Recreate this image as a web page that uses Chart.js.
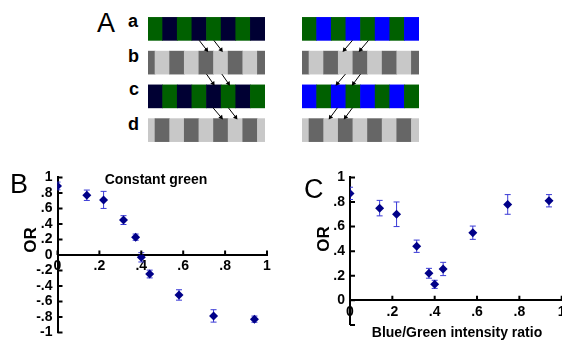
<!DOCTYPE html>
<html>
<head>
<meta charset="utf-8">
<script src="https://cdn.jsdelivr.net/npm/chart.js@4.4.0/dist/chart.umd.min.js"></script>
<style>
html, body { margin: 0; padding: 0; background: #fff; }
body { width: 562px; height: 341px; position: relative; overflow: hidden; font-family: "Liberation Sans", Arial, sans-serif; }
canvas { position: absolute; }
.t { position: absolute; line-height: 1; white-space: nowrap; color: #000; }
.big { font-size: 27px; }
.row { font-size: 18px; font-weight: bold; }
.lab { font-size: 14px; font-weight: bold; }
.or { font-size: 17px; font-weight: bold; transform: translate(-50%, -50%) rotate(-90deg); }
</style>
</head>
<body>
<canvas id="stripesL" width="117" height="135" style="left:148px;top:12px"></canvas>
<canvas id="stripesR" width="117" height="135" style="left:302px;top:12px"></canvas>
<canvas id="green" width="290" height="190" style="left:0;top:160px"></canvas>
<canvas id="ratio" width="320" height="190" style="left:290px;top:160px"></canvas>

<div class="t big" style="left:97px;top:10px">A</div>
<div class="t row" style="left:128px;top:12px">a</div>
<div class="t row" style="left:128px;top:47px">b</div>
<div class="t row" style="left:129px;top:80px">c</div>
<div class="t row" style="left:128px;top:115px">d</div>
<div class="t big" style="left:10px;top:171px">B</div>
<div class="t big" style="left:304px;top:176px">C</div>
<div class="t lab" style="left:156px;top:172px;transform:translateX(-50%)">Constant green</div>
<div class="t lab" style="left:457px;top:325px;transform:translateX(-50%)">Blue/Green intensity ratio</div>
<div class="t or" style="left:30px;top:240px">OR</div>
<div class="t or" style="left:323px;top:239px">OR</div>

<script>
// panel A: stripe rows, edges in stripe widths
var rowNames = ['a', 'b', 'c', 'd'];
var colourEdges = [0, 1, 2, 3, 4, 5, 6, 7, 8];
var greyEdges = [0, 0.48, 1.48, 2.48, 3.48, 4.48, 5.48, 6.48, 7.48, 8];
var leftRows = ['GNGNGNGN', 'DLDLDLDLD', 'NGNGNGNG', 'LDLDLDLDL'];
var rightRows = ['GBGBGBGB', 'DLDLDLDLD', 'BGBGBGBG', 'LDLDLDLDL'];
// arrows: [x0, y0, x1, y1] in stripe widths / row index
var leftArrows = [
    [3.5, 0.34, 4.0, 0.62], [4.5, 0.34, 5.0, 0.62],
    [4.0, 1.34, 4.45, 1.62], [5.05, 1.34, 5.5, 1.62],
    [4.45, 2.34, 5.0, 2.62], [5.5, 2.34, 6.0, 2.62]
];
var rightArrows = [
    [3.45, 0.34, 2.9, 0.62], [4.55, 0.34, 4.0, 0.62],
    [2.97, 1.34, 2.42, 1.62], [4.0, 1.34, 3.52, 1.62],
    [2.42, 2.34, 1.94, 2.62], [3.45, 2.34, 2.97, 2.62]
];

// panels B and C
var ratio = [0, 0.14, 0.22, 0.315, 0.373, 0.40, 0.44, 0.58, 0.745, 0.94];
var orGreen = [0.89, 0.77, 0.71, 0.45, 0.23, -0.03, -0.245, -0.515, -0.785, -0.827];
var errGreen = [0.05, 0.067, 0.11, 0.057, 0.04, 0.06, 0.05, 0.067, 0.08, 0.04];
var orRatio = [0.87, 0.75, 0.70, 0.44, 0.22, 0.13, 0.255, 0.55, 0.78, 0.81];
var errRatio = [0.05, 0.063, 0.10, 0.05, 0.04, 0.033, 0.054, 0.054, 0.08, 0.05];

var swatch = { G: '#006000', N: '#000033', B: '#0000ff', D: '#666666', L: '#c8c8c8' };
var marker = '#000088';
var errColour = '#3a3ad6';
var tickFont = { family: '"Liberation Sans", Arial, sans-serif', size: 14, weight: 'bold' };

// short tick marks pointing into the plot, on the y axis and on the x axis at y = 0
var inwardTicks = {
    id: 'inwardTicks',
    afterDraw: function (chart) {
        var ctx = chart.ctx, sx = chart.scales.x, sy = chart.scales.y;
        var left = chart.chartArea.left, base = sy.getPixelForValue(0);
        ctx.save();
        ctx.strokeStyle = '#000';
        ctx.lineWidth = 2;
        ctx.beginPath();
        sy.ticks.forEach(function (t) {
            var p = sy.getPixelForValue(t.value);
            ctx.moveTo(left, p);
            ctx.lineTo(left + 5, p);
        });
        sx.ticks.forEach(function (t) {
            var p = sx.getPixelForValue(t.value);
            ctx.moveTo(p, base);
            ctx.lineTo(p, base - 4.5);
        });
        ctx.stroke();
        ctx.restore();
    }
};

function arrowPoints(arrows) {
    var pts = [];
    arrows.forEach(function (a) {
        pts.push({ x: a[0], y: a[1] }, { x: a[2], y: a[3] }, { x: null, y: null });
    });
    return pts;
}

function stripes(id, rows, arrows) {
    var datasets = [{
        type: 'line',
        data: arrowPoints(arrows),
        showLine: true,
        borderColor: '#000',
        borderWidth: 1,
        pointStyle: 'triangle',
        pointBackgroundColor: '#000',
        pointBorderColor: '#000',
        pointBorderWidth: 0,
        pointRadius: function (ctx) { return ctx.dataIndex % 3 === 1 ? 2.8 : 0; },
        pointRotation: function (ctx) {
            var a = arrows[Math.floor(ctx.dataIndex / 3)];
            if (!a) return 0;
            var sx = ctx.chart.scales.x, sy = ctx.chart.scales.y;
            var dx = sx.getPixelForValue(a[2]) - sx.getPixelForValue(a[0]);
            var dy = sy.getPixelForValue(a[3]) - sy.getPixelForValue(a[1]);
            return Math.atan2(dx, -dy) * 180 / Math.PI;
        }
    }];
    rows.forEach(function (row, r) {
        var edges = row.length === colourEdges.length - 1 ? colourEdges : greyEdges;
        var data = [], colours = [];
        for (var k = 0; k < row.length; k++) {
            data.push({ y: r, x: [edges[k], edges[k + 1]] });
            colours.push(swatch[row[k]]);
        }
        datasets.push({
            type: 'bar',
            label: rowNames[r],
            indexAxis: 'y',
            data: data,
            backgroundColor: colours,
            borderWidth: 0,
            barThickness: 23,
            grouped: false
        });
    });
    new Chart(document.getElementById(id), {
        type: 'scatter',
        data: { datasets: datasets },
        options: {
            responsive: false,
            animation: false,
            events: [],
            layout: { padding: 0, autoPadding: false },
            plugins: { legend: { display: false }, tooltip: { enabled: false } },
            scales: {
                x: { type: 'linear', min: 0, max: 8, display: false },
                y: { type: 'linear', min: -0.5, max: 3.5, reverse: true, offset: false, display: false }
            }
        }
    });
}

function errorSegments(xs, ys, es) {
    var pts = [];
    xs.forEach(function (x, i) {
        pts.push({ x: x, y: ys[i] - es[i] }, { x: x, y: ys[i] + es[i] }, { x: x, y: null });
    });
    return pts;
}

function fmt(v) {
    var s = String(Math.round(v * 10) / 10);
    return s.replace(/^(-?)0\./, '$1.');
}

function orPanel(id, ys, es, yMin, pad, axisWidth) {
    var tickGrid = {
        display: true, drawOnChartArea: false, drawTicks: true,
        tickLength: -4, color: 'rgba(0,0,0,0)', tickColor: 'rgba(0,0,0,0)'
    };
    new Chart(document.getElementById(id), {
        type: 'scatter',
        data: {
            datasets: [{
                data: ratio.map(function (x, i) { return { x: x, y: ys[i] }; }),
                pointStyle: 'rectRot',
                pointRadius: 4.5,
                backgroundColor: marker,
                borderColor: marker,
                borderWidth: 0
            }, {
                type: 'line',
                data: errorSegments(ratio, ys, es),
                showLine: true,
                borderColor: errColour,
                borderWidth: 1,
                pointStyle: 'line',
                pointRadius: 3,
                pointBorderColor: errColour,
                pointBorderWidth: 1
            }]
        },
        options: {
            responsive: false,
            animation: false,
            events: [],
            layout: { padding: pad, autoPadding: false },
            plugins: { legend: { display: false }, tooltip: { enabled: false } },
            scales: {
                x: {
                    type: 'linear', position: { y: 0 }, min: 0, max: 1,
                    border: { display: true, color: '#000', width: 2 },
                    grid: tickGrid,
                    ticks: { stepSize: 0.2, includeBounds: false, padding: 7, font: tickFont, color: '#000',
                        maxRotation: 0, autoSkip: false, callback: fmt }
                },
                y: {
                    type: 'linear', min: yMin, max: 1,
                    border: { display: true, color: '#000', width: 2 },
                    grid: tickGrid,
                    ticks: { stepSize: 0.2, includeBounds: false, padding: 9, font: tickFont, color: '#000',
                        autoSkip: false, callback: function (v) { return (yMin > -1 && v < yMin + 0.01) ? '' : fmt(v); } },
                    afterFit: function (s) { s.width = axisWidth; }
                }
            }
        },
        plugins: [inwardTicks]
    });
}

stripes('stripesL', leftRows, leftArrows);
stripes('stripesR', rightRows, rightArrows);
orPanel('green', orGreen, errGreen, -1, { left: 0, top: 15, right: 23, bottom: 17.3 }, 57.5);
orPanel('ratio', orRatio, errRatio, -0.2, { left: 0, top: 15.7, right: 48.3, bottom: 25.1 }, 60);
</script>
</body>
</html>
